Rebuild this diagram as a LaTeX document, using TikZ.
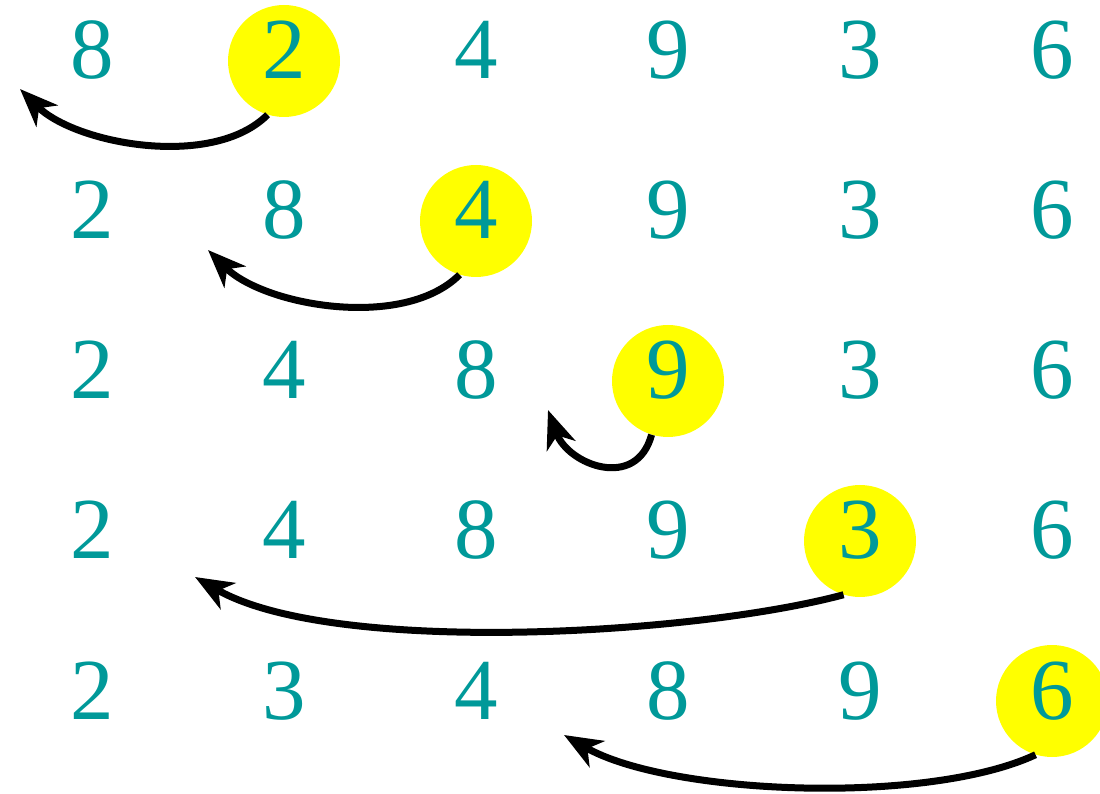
\documentclass[tikz,border=0pt]{standalone}
\usepackage{fontspec}
\setmainfont{Liberation Serif}
\usetikzlibrary{arrows.meta}
\definecolor{digitteal}{HTML}{009999}
\definecolor{markyellow}{HTML}{FFFF00}

\begin{document}
\begin{tikzpicture}[
    x=1pt, y=1pt,
    digit/.style={
      anchor=base, inner sep=0pt,
      text=digitteal, font=\fontsize{87}{90}\selectfont,
    },
    keymark/.style={
      circle, fill=markyellow, minimum size=112pt, inner sep=0pt,
    },
    move/.style={
      line width=7pt, draw=black,
      -{Stealth[length=38pt, width=30pt, inset=11pt]},
    },
  ]
  \useasboundingbox (0,0) rectangle (1100,793);

  % ---- yellow markers for the key of each pass ----
  \node[keymark] (k1) at (284,732) {};
  \node[keymark] (k2) at (476,572) {};
  \node[keymark] (k3) at (668,412) {};
  \node[keymark] (k4) at (860,252) {};
  \node[keymark] (k5) at (1052,92) {};

  % ---- rows of digits ----
  \foreach \vals [count=\r] in {{8,2,4,9,3,6},{2,8,4,9,3,6},{2,4,8,9,3,6},{2,4,8,9,3,6},{2,3,4,8,9,6}} {
    \foreach \d [count=\c] in \vals {
      \node[digit] (d\r\c) at ({92+192*(\c-1)}, {714-160*(\r-1)}) {\d};
    }
  }

  % ---- insertion moves ----
  \coordinate (t1) at (20,704);
  \coordinate (t2) at (208,543);
  \coordinate (t3) at (548,383);
  \coordinate (t4) at (195,216);
  \coordinate (t5) at (564,58);

  \draw[move] (k1.-107) to[out=-135, in=-45, looseness=0.8] (t1);
  \draw[move] (k2.-107) to[out=-135, in=-45, looseness=0.8] (t2);
  \draw[move] (k3.-107) to[out=-105, in=-70, looseness=1.4] (t3);
  \draw[move] (k4.-107) to[out=-165, in=-30, looseness=0.62] (t4);
  \draw[move] (k5.-107) to[out=-155, in=-30, looseness=0.65] (t5);

\end{tikzpicture}
\end{document}
